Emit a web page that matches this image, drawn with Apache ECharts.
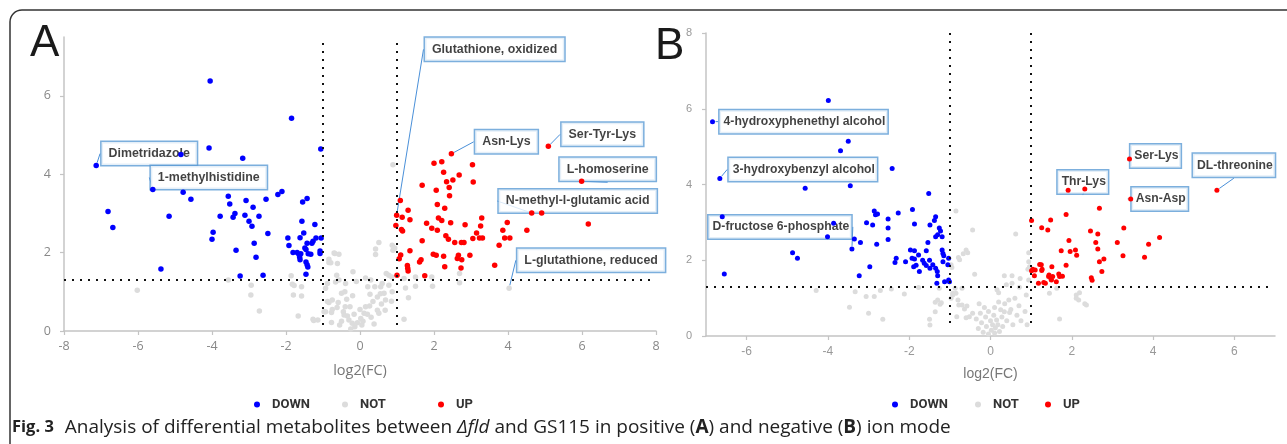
<!DOCTYPE html>
<html><head><meta charset="utf-8">
<script src="https://cdn.jsdelivr.net/npm/echarts@6/dist/echarts.min.js"></script>
<style>html,body{margin:0;padding:0;background:#fff}#c{width:1287px;height:444px}</style>
</head><body><div id="c"></div>
<script>
// ---------- Panel A (positive ion mode) ----------
const A_DOWN = [[-7.13,4.22],[-6.81,3.05],[-6.68,2.64],[-5.60,3.61],[-5.38,1.58],[-5.16,2.93],[-4.84,4.50],[-4.78,3.54],[-4.57,3.36],[-4.08,4.67],[-4.05,6.38],[-4.00,2.34],[-3.97,2.52],[-3.78,2.93],[-3.56,3.44],[-3.52,3.24],[-3.43,2.90],[-3.38,3.00],[-3.35,2.06],[-3.24,1.40],[-3.17,4.41],[-3.11,2.95],[-3.08,3.33],[-3.00,2.80],[-2.92,2.67],[-2.89,3.16],[-2.86,2.24],[-2.81,1.88],[-2.73,2.93],[-2.62,1.42],[-2.54,3.36],[-2.49,2.49],[-2.22,3.48],[-2.11,3.56],[-1.95,2.37],[-1.92,2.18],[-1.85,5.43],[-1.81,2.00],[-1.70,2.00],[-1.65,1.95],[-1.63,1.88],[-1.62,1.82],[-1.62,2.38],[-1.60,1.97],[-1.57,2.80],[-1.55,3.29],[-1.52,2.50],[-1.49,2.12],[-1.46,2.08],[-1.46,1.76],[-1.43,1.69],[-1.41,1.63],[-1.46,1.45],[-1.43,3.38],[-1.43,2.24],[-1.40,1.97],[-1.33,1.96],[-1.30,2.24],[-1.27,2.29],[-1.22,2.72],[-1.19,2.37],[-1.08,2.04],[-1.08,1.98],[-1.06,4.64],[-1.05,2.37]];
const A_NOT = [[-6.02,1.04],[-3.56,1.30],[-2.95,0.92],[-2.94,1.17],[-2.72,0.51],[-1.86,1.41],[-1.83,1.19],[-1.80,0.92],[-1.78,1.16],[-1.67,0.38],[-1.58,0.89],[-1.58,1.13],[-1.27,0.30],[-1.25,0.27],[-1.14,0.28],[-0.97,0.49],[-0.93,1.09],[-0.93,0.49],[-0.88,1.21],[-0.88,0.75],[-0.84,1.75],[-0.84,1.83],[-0.84,0.73],[-0.79,1.74],[-0.77,0.47],[-0.77,0.22],[-0.75,0.79],[-0.75,0.55],[-0.70,1.99],[-0.68,1.98],[-0.66,1.25],[-0.63,1.42],[-0.61,1.72],[-0.59,0.73],[-0.57,1.96],[-0.57,1.30],[-0.50,0.96],[-0.50,0.25],[-0.45,0.49],[-0.43,0.41],[-0.41,1.00],[-0.39,1.21],[-0.36,0.81],[-0.34,0.38],[-0.30,0.28],[-0.27,0.62],[-0.21,0.20],[-0.19,1.51],[-0.16,0.43],[-0.14,0.11],[-0.10,1.26],[-0.07,0.21],[0.02,0.32],[0.05,0.15],[0.11,0.45],[0.15,0.62],[0.15,1.35],[0.20,0.43],[0.21,1.13],[0.26,0.64],[0.27,0.94],[0.29,1.30],[0.35,0.75],[0.40,1.13],[0.42,2.09],[0.42,1.95],[0.47,0.87],[0.47,0.53],[0.51,2.26],[0.51,0.45],[0.56,1.13],[0.58,0.69],[0.60,1.21],[0.65,0.96],[0.68,0.53],[0.69,0.79],[0.71,1.47],[0.78,1.42],[0.78,1.17],[0.85,0.76],[0.86,1.38],[0.87,2.19],[0.87,1.00],[0.89,4.24],[0.89,2.06],[0.94,2.12],[1.19,1.34],[1.19,0.30],[1.23,1.10],[1.31,0.85],[1.50,1.38],[1.50,1.14],[1.94,1.38],[1.96,1.14],[2.69,1.47],[2.69,1.23],[4.03,1.09],[-0.55,0.15],[-0.25,0.05],[0.08,0.25],[0.30,0.35],[-0.62,0.60],[0.55,0.95],[-0.20,0.90],[0.00,0.55],[0.38,0.18],[-0.40,0.62]];
const A_UP = [[0.97,2.69],[0.99,2.95],[1.00,1.42],[1.06,1.84],[1.09,3.33],[1.10,1.94],[1.12,2.59],[1.14,2.90],[1.15,2.55],[1.28,1.67],[1.29,1.60],[1.30,1.53],[1.30,3.08],[1.35,2.84],[1.35,2.05],[1.61,1.76],[1.65,1.82],[1.68,3.72],[1.68,2.30],[1.75,1.41],[1.80,2.75],[1.94,2.62],[1.98,1.96],[2.00,4.28],[2.06,3.59],[2.06,1.93],[2.09,3.23],[2.09,2.57],[2.12,2.88],[2.21,4.32],[2.21,2.82],[2.26,4.05],[2.26,1.91],[2.29,3.13],[2.29,1.64],[2.32,2.43],[2.34,3.81],[2.39,2.34],[2.41,3.66],[2.42,3.45],[2.45,2.76],[2.47,4.52],[2.51,3.85],[2.56,2.26],[2.63,1.85],[2.66,1.93],[2.68,3.98],[2.73,1.61],[2.74,2.26],[2.75,1.82],[2.81,2.26],[2.84,2.71],[2.97,1.93],[3.04,4.24],[3.05,2.36],[3.06,3.80],[3.15,2.50],[3.23,2.37],[3.26,2.68],[3.29,2.88],[3.31,2.37],[3.64,1.68],[3.76,2.19],[3.86,2.57],[3.91,2.37],[3.98,2.77],[4.05,2.37],[4.51,2.57],[4.64,3.01],[4.91,3.01],[5.09,4.71],[5.99,3.82],[6.17,2.73]];
const A_LABEL_NAMES = ['Dimetridazole','1-methylhistidine','Glutathione, oxidized','Asn-Lys','Ser-Tyr-Lys','L-homoserine','N-methyl-l-glutamic acid','L-glutathione, reduced'];
const A_LABEL_POINTS = [[-7.13,4.22],[-5.60,3.61],[0.99,2.95],[2.47,4.52],[5.09,4.71],[5.99,3.82],[4.64,3.01],[4.03,1.09]];
const A_X_TICKS = [-8,-6,-4,-2,0,2,4,6,8];
const A_Y_TICKS = [0,2,4,6];

// ---------- Panel B (negative ion mode) ----------
const B_DOWN = [[-6.84,5.66],[-6.66,4.16],[-6.60,3.15],[-6.55,1.64],[-4.87,2.20],[-4.75,2.05],[-4.56,3.90],[-4.01,2.62],[-3.99,6.22],[-3.86,2.98],[-3.69,4.89],[-3.50,5.14],[-3.45,3.97],[-3.41,2.30],[-3.35,2.56],[-3.23,1.59],[-3.20,2.47],[-3.05,2.99],[-2.97,1.83],[-2.90,2.93],[-2.86,3.30],[-2.83,3.20],[-2.80,2.42],[-2.78,3.22],[-2.52,3.09],[-2.52,2.85],[-2.52,2.55],[-2.42,4.42],[-2.35,1.94],[-2.32,2.05],[-2.27,3.25],[-2.09,1.96],[-1.97,2.27],[-1.93,2.05],[-1.92,3.34],[-1.89,1.83],[-1.87,2.96],[-1.87,2.25],[-1.87,2.03],[-1.83,1.87],[-1.77,2.14],[-1.75,1.70],[-1.67,2.00],[-1.63,1.92],[-1.58,1.86],[-1.58,2.25],[-1.54,2.47],[-1.52,3.76],[-1.50,2.00],[-1.49,1.79],[-1.49,2.93],[-1.42,1.88],[-1.38,3.05],[-1.35,3.15],[-1.35,2.62],[-1.35,1.79],[-1.32,1.39],[-1.31,1.70],[-1.30,2.67],[-1.30,1.59],[-1.26,2.85],[-1.23,2.77],[-1.19,2.62],[-1.19,2.27],[-1.17,2.18],[-1.17,1.96],[-1.15,2.12],[-1.13,1.43],[-1.05,1.88],[-1.03,2.05],[-1.03,1.48],[-1.01,1.43]];
const B_NOT = [[-4.29,1.20],[-3.47,0.76],[-3.33,1.17],[-3.06,1.04],[-3.00,0.60],[-2.86,1.04],[-2.71,1.20],[-2.65,0.44],[-2.44,1.24],[-2.12,1.11],[-1.77,1.28],[-1.50,0.44],[-1.49,0.29],[-1.36,0.64],[-1.36,0.89],[-1.30,0.95],[-1.26,1.26],[-1.24,0.84],[-1.21,0.88],[-0.97,1.88],[-0.97,1.00],[-0.95,1.81],[-0.93,1.08],[-0.93,1.13],[-0.87,1.26],[-0.85,3.30],[-0.85,1.13],[-0.83,0.51],[-0.80,0.95],[-0.79,2.07],[-0.78,0.82],[-0.76,2.01],[-0.70,1.26],[-0.70,0.82],[-0.67,2.17],[-0.64,0.71],[-0.60,2.27],[-0.60,0.48],[-0.58,0.79],[-0.56,2.20],[-0.52,0.51],[-0.44,2.80],[-0.44,0.60],[-0.39,1.63],[0.16,1.22],[0.20,1.14],[0.25,0.69],[0.34,1.59],[0.34,0.64],[0.39,1.35],[0.47,0.62],[0.53,1.59],[0.53,1.39],[0.62,2.69],[0.71,1.29],[0.73,1.52],[0.88,1.08],[0.92,1.76],[0.94,2.20],[0.94,1.96],[0.94,1.48],[0.96,1.83],[1.45,1.13],[1.63,1.26],[1.70,0.45],[2.11,1.08],[2.11,1.00],[2.17,0.95],[2.19,1.14],[2.32,0.85],[2.36,0.82],[-0.35,0.45],[-0.30,0.20],[-0.25,0.60],[-0.22,0.35],[-0.18,0.10],[-0.12,0.50],[-0.10,0.25],[-0.05,0.05],[0.00,0.40],[0.02,0.15],[0.05,0.30],[0.08,0.55],[0.10,0.08],[0.12,0.22],[0.15,0.42],[0.18,0.30],[0.22,0.12],[0.28,0.50],[0.30,0.25],[0.35,0.85],[0.40,0.40],[0.45,0.95],[0.50,0.70],[0.55,0.30],[0.60,1.00],[0.65,0.55],[0.70,0.80],[0.75,0.40],[0.85,0.65],[0.90,0.30],[-0.15,0.75],[-0.28,0.85],[0.20,0.90],[-0.05,0.65],[0.10,0.75]];
const B_UP = [[1.01,3.05],[1.01,1.72],[1.04,1.76],[1.08,1.59],[1.10,1.74],[1.18,1.39],[1.21,1.89],[1.25,1.88],[1.26,2.86],[1.26,1.73],[1.27,1.76],[1.31,1.41],[1.35,1.39],[1.41,2.80],[1.43,1.57],[1.44,1.61],[1.48,3.06],[1.49,1.50],[1.50,1.48],[1.51,1.83],[1.53,1.57],[1.62,1.43],[1.68,1.64],[1.70,1.57],[1.74,2.25],[1.77,1.58],[1.86,3.21],[1.86,1.87],[1.91,3.85],[1.93,2.52],[1.96,2.23],[2.09,2.27],[2.12,2.13],[2.32,3.88],[2.46,2.77],[2.48,1.54],[2.50,1.47],[2.59,2.47],[2.64,2.69],[2.64,2.30],[2.68,3.37],[2.68,1.96],[2.74,1.70],[2.79,2.03],[3.12,2.47],[3.26,2.12],[3.28,2.85],[3.42,4.67],[3.45,3.62],[3.79,2.08],[3.89,2.42],[4.16,2.60],[5.57,3.85]];
const B_LABEL_NAMES = ['4-hydroxyphenethyl alcohol','3-hydroxybenzyl alcohol','D-fructose 6-phosphate','Thr-Lys','Ser-Lys','Asn-Asp','DL-threonine'];
const B_LABEL_POINTS = [[-6.84,5.66],[-6.66,4.16],[-3.41,2.30],[2.32,3.88],[3.42,4.67],[3.45,3.62],[5.57,3.85]];
const B_X_TICKS = [-6,-4,-2,0,2,4,6];
const B_Y_TICKS = [0,2,4,6,8];

// thresholds
const FC_CUT = 1;      // |log2(FC)|
const P_CUT = 1.3;     // -log10(0.05)

const LEGEND_NAMES = ['DOWN','NOT','UP'];
const COLORS = {DOWN:'#0000ff', NOT:'#dcdcdc', UP:'#ff0000'};

// label placement (pixel offsets from the anchored point) - style only
const LABEL_OFFSETS = {
  'Dimetridazole':[53,-12], '1-methylhistidine':[56,-12], 'Glutathione, oxidized':[98,-166],
  'Asn-Lys':[55,-12], 'Ser-Tyr-Lys':[54,-12], 'L-homoserine':[26,-12],
  'N-methyl-l-glutamic acid':[46,-12], 'L-glutathione, reduced':[82,-28],
  '4-hydroxyphenethyl alcohol':[91,0], '3-hydroxybenzyl alcohol':[83,-9],
  'D-fructose 6-phosphate':[-72,-22], 'Thr-Lys':[-2,-7], 'Ser-Lys':[26,-3],
  'Asn-Asp':[29,0], 'DL-threonine':[17,-25]
};

const chart = echarts.init(document.getElementById('c'));

const dotted = {color:'#111', type:[2,6], width:2};
function pointSeries(name, data, idx, size, extra){
  return Object.assign({
    type:'scatter', name, data, xAxisIndex:idx, yAxisIndex:idx,
    symbolSize:size, itemStyle:{color:COLORS[name], opacity:1}, z:3, silent:true
  }, extra||{});
}
function labelSeries(names, points, idx, fontSize, padding){
  return {
    type:'scatter', name:'labels'+idx, xAxisIndex:idx, yAxisIndex:idx, z:1, silent:true,
    data:names.map((n,i)=>({name:n, value:points[i]})),
    symbolSize:6, itemStyle:{color:'rgba(0,0,0,0)'},
    label:{show:true, position:'inside', formatter:'{b}', fontFamily:'Liberation Sans', fontWeight:'bold',
      fontSize:fontSize, color:'#111', backgroundColor:'#fff', borderColor:'#5b9bd5', borderWidth:1.5,
      padding:padding},
    labelLine:{show:true, lineStyle:{color:'#4a90d9', width:1}},
    labelLayout:function(p){ const o = LABEL_OFFSETS[names[p.dataIndex]]; return {dx:o[0], dy:o[1]}; }
  };
}
function markLines(xmin, xmax, ytop, ybot){
  return {silent:true, symbol:'none', label:{show:false}, lineStyle:dotted, animation:false,
    data:[
      [{coord:[-FC_CUT,ytop]},{coord:[-FC_CUT,ybot]}],
      [{coord:[FC_CUT,ytop]},{coord:[FC_CUT,ybot]}],
      [{coord:[xmin,P_CUT]},{coord:[xmax,P_CUT]}]
    ]};
}
const axisLineX = {onZero:false, lineStyle:{color:'#c4c4c4', width:1.5}};
const axisLineY = {show:true, onZero:false, lineStyle:{color:'#c4c4c4', width:1.5}};
const tickStyle = {show:true, length:4, lineStyle:{color:'#c4c4c4', width:1.2}};

const legendCommon = {orient:'horizontal', itemWidth:20, itemHeight:6, icon:'circle', selectedMode:false, padding:0,
  textStyle:{fontFamily:'Roboto', fontWeight:'bold', fontSize:13, color:'#333'}};
const legendLefts = [[254,342,438],[892,975,1045]];
const legends = [];
legendLefts.forEach(row=>row.forEach((l,i)=>legends.push(Object.assign({}, legendCommon, {data:[LEGEND_NAMES[i]], left:l, top:398}))));

chart.setOption({
  animation:false,
  backgroundColor:'#fff',
  grid:[
    {left:64, top:37, width:592, height:294, containLabel:false},
    {left:706, top:33, width:569, height:303, containLabel:false}
  ],
  xAxis:[
    {type:'value', gridIndex:0, min:-8, max:8, interval:2, splitLine:{show:false},
     axisLine:axisLineX, axisTick:Object.assign({}, tickStyle),
     axisLabel:{color:'#888', fontFamily:'Open Sans', fontSize:12.5, margin:9},
     name:'log2(FC)', nameLocation:'middle', nameGap:32,
     nameTextStyle:{color:'#777', fontFamily:'Open Sans', fontSize:14.5}},
    {type:'value', gridIndex:1, min:-7, max:7, splitLine:{show:false},
     axisLine:axisLineX, axisTick:Object.assign({customValues:B_X_TICKS}, tickStyle),
     axisLabel:{customValues:B_X_TICKS, color:'#999', fontFamily:'Liberation Sans', fontSize:12, margin:10},
     name:'log2(FC)', nameLocation:'middle', nameGap:31,
     nameTextStyle:{color:'#777', fontFamily:'Liberation Sans', fontSize:14}}
  ],
  yAxis:[
    {type:'value', gridIndex:0, min:0, max:7.5, splitLine:{show:false},
     axisLine:axisLineY, axisTick:Object.assign({customValues:A_Y_TICKS}, tickStyle),
     axisLabel:{customValues:A_Y_TICKS, color:'#888', fontFamily:'Open Sans', fontSize:12.5, margin:13}},
    {type:'value', gridIndex:1, min:0, max:8, interval:2, splitLine:{show:false},
     axisLine:axisLineY, axisTick:Object.assign({}, tickStyle),
     axisLabel:{color:'#999', fontFamily:'Liberation Sans', fontSize:11, margin:14}}
  ],
  legend:legends,
  series:[
    pointSeries('NOT', A_NOT, 0, 5.5, {markLine:markLines(-8, 7.9, 7.35, 0.15)}),
    pointSeries('DOWN', A_DOWN, 0, 5.5),
    pointSeries('UP', A_UP, 0, 5.5),
    labelSeries(A_LABEL_NAMES, A_LABEL_POINTS, 0, 12.4, [6,7,5,7]),
    pointSeries('NOT', B_NOT, 1, 5, {markLine:markLines(-7, 6.9, 8, 0.2)}),
    pointSeries('DOWN', B_DOWN, 1, 5),
    pointSeries('UP', B_UP, 1, 5),
    labelSeries(B_LABEL_NAMES, B_LABEL_POINTS, 1, 12.2, [6,2,5,4])
  ],
  graphic:[
    {type:'rect', shape:{x:10, y:10, width:1320, height:470, r:12}, silent:true, z:-10,
     style:{fill:'none', stroke:'#333', lineWidth:1.5}},
    {type:'text', left:30, top:22, silent:true, style:{text:'A', fontFamily:'Liberation Sans', fontSize:44, fill:'#1a1a1a'}},
    {type:'text', left:655, top:25, silent:true, style:{text:'B', fontFamily:'Liberation Sans', fontSize:44, fill:'#1a1a1a'}},
    {type:'text', left:12, top:418, silent:true, style:{
      text:'{b|Fig. 3} Analysis of differential metabolites between {i|Δfld} and GS115 in positive ({bb|A}) and negative ({bb|B}) ion mode',
      fontFamily:'Open Sans', fontSize:19, fill:'#222',
      rich:{b:{fontFamily:'Open Sans', fontWeight:'bold', fontSize:16.5, fill:'#222', padding:[0,6,0,0]},
            bb:{fontFamily:'Open Sans', fontWeight:'bold', fontSize:19, fill:'#222'},
            i:{fontFamily:'Open Sans', fontStyle:'italic', fontSize:19, fill:'#222'}}}}
  ]
});
</script></body></html>
